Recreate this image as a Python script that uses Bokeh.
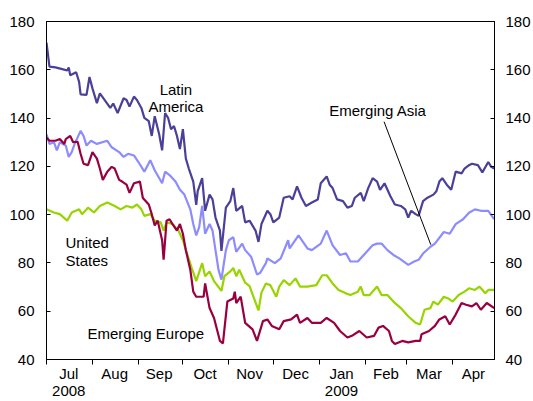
import pandas as pd
from bokeh.plotting import figure
from bokeh.models import FixedTicker, LinearAxis, Label, Range1d, ColumnDataSource
from bokeh.embed import file_html
from bokeh.resources import INLINE

BASE = "2008-07-01"

# Latin America (days since BASE, index level)
la_day = [0,2,6,10,14,15,16,20,22,23,27,29,31,34,36,40,43,45,48,52,54,56,59,61,64,66,69,71,73,76,
          78,80,82,84,86,88,90,92,94,96,99,101,102,105,107,110,112,114,117,118,121,124,126,128,132,134,137,141,143,145,
          149,151,153,157,160,164,166,169,172,175,179,183,185,189,191,193,196,200,203,206,208,212,214,217,220,223,225,228,232,235,
          239,242,244,246,249,251,254,257,261,263,265,267,270,273,276,280,282,285,287,291,294,298,300,302]
la_val = [171.2,161.3,161,160.4,159.7,161,157.7,159,155,149.8,149.6,157,152.3,146.2,150.2,146.8,144.2,146,142.1,148.2,
          147.5,144.8,148.9,147.5,144.2,140.1,138.7,132.6,140.8,133.3,126.6,142.1,140.1,135.4,136.7,132.6,127.2,135.4,123.2,119.1,
          113.7,104,109.7,115.1,101.6,108.3,106.3,98.8,93.4,85,102.9,105.6,111,101.6,103.6,96.8,97.5,93.4,88.7,96.1,
          101.6,100.2,96.8,98.8,107,107.6,106.3,111.7,107,103.6,105,106.3,113,115.8,112.4,111,106.3,105.6,102.9,103.6,
          107,109,105.6,111,115.1,113.7,110.3,113,107.6,104.2,103.6,102.2,98.8,101.6,100.2,99.5,105.6,107,108.3,109.7,
          113.7,115.1,112.4,110.3,117.8,117.1,119.1,120.5,121.1,120.5,117.5,121.8,119.8,119.1]

# Emerging Asia
as_day = [0,2,5,7,9,13,15,17,19,23,25,27,30,34,41,44,49,52,55,59,62,66,70,73,78,80,83,87,90,93,
          97,99,101,103,105,107,110,112,114,116,118,121,123,126,128,132,134,138,142,144,148,149,154,158,163,164,170,176,179,185,
          189,193,198,202,205,210,214,220,223,226,230,234,238,244,248,251,254,259,262,268,272,276,281,285,289,293,298,302]
as_val = [133.3,129.3,130,126.6,130,128.6,123.9,125.9,129.3,134.7,132.6,128.6,130.6,129.3,130.6,127.9,125.9,123.9,125.2,124.5,
          121.8,117.8,122.5,118.4,113,117.8,116.4,113.7,110.3,108.3,102.2,96.1,91.4,94.8,103.6,92.1,96.1,93.4,85.3,77.2,
          73.1,85.3,89.4,90.7,84.6,88,85.3,82.6,75.2,75.8,79.9,81.9,79.9,81.9,89.4,86,91.4,86,85.3,88,
          93.4,87.3,83.3,84,80.6,80.6,83.3,87.3,88,88,85.3,83.3,81.9,79.2,80.6,81.3,83.9,86.7,88,92.8,
          92.1,96.1,98.1,100.8,102.2,101.6,101.6,98.1]

# United States
us_day = [0,5,9,14,17,22,24,28,32,36,41,46,50,54,58,61,64,66,70,73,77,79,81,85,89,92,94,98,101,105,
          107,110,113,118,120,124,126,128,130,134,137,139,143,145,148,151,155,157,160,164,168,171,176,182,186,189,193,197,202,205,
          210,212,214,218,223,226,230,234,239,244,249,252,255,259,261,264,268,271,274,278,282,285,289,292,296,298,302]
us_val = [102.2,100.9,100.2,97.5,100.9,102.2,100.2,102.9,100.9,103.6,105,103.6,102.2,103.6,102.9,104.2,102.2,99.5,100.2,97.5,
          96.8,93.4,96.8,96.1,93.4,89.4,85.3,77.9,72.5,79.9,74.5,76.5,72.5,68.4,74.5,76.5,77.9,74.5,77.2,71.8,
          70.4,67,60.3,67.7,71.5,70.8,66,70.2,72.9,70.8,73.6,70.2,70.2,70.8,74.9,74.9,71.5,68.8,67.4,66.7,
          68.1,70.2,66.7,66.7,70.2,66.7,66.7,64,61.3,57.9,55.2,54.5,60.6,61.3,64,62.7,66,65.3,64,66.7,
          68.1,69.5,68.8,70.2,67.4,68.8,68.8]

# Emerging Europe
eu_day = [0,2,6,9,12,13,16,18,21,23,25,28,31,34,36,38,41,44,46,49,51,54,56,59,63,65,69,71,73,75,
          78,79,81,83,85,88,90,92,94,97,99,101,106,107,110,113,117,119,122,126,127,128,131,134,139,142,146,149,152,157,
          160,165,169,171,176,179,185,189,194,198,203,206,211,216,221,224,227,231,233,235,240,244,249,252,253,258,262,265,269,272,
          276,280,283,287,290,293,297,302]
eu_val = [132,130.6,130.6,131.3,129.3,131.3,132.6,130,130.2,125.2,121.1,120.5,125.9,123.2,119.1,114.4,117.8,119.8,119.1,114.4,
          113.7,112.4,109,113,113.7,106.9,104.2,100.2,95.5,97.5,89.4,81.3,97.5,98.1,96.1,93.4,96.1,92.1,85.3,77.2,
          68.1,66,66,71.5,61.3,57.2,47.7,46.7,64,65.3,68.1,63.4,66,55.2,52.5,47.7,55.9,56.6,53.9,52.5,
          55.9,56.6,58.6,55.2,57.2,55.2,55.2,57.2,55.2,51.8,49.1,49.8,51.8,49.1,49.8,53.2,53.9,51.8,47.7,46.4,
          47.7,47.1,47.7,47.7,50.5,51.8,53.9,56.6,57.9,54.5,58.6,63.4,62.7,62,63.4,60.6,63.4,61.3]

month_starts = ["2008-07-01","2008-08-01","2008-09-01","2008-10-01","2008-11-01","2008-12-01",
                "2009-01-01","2009-02-01","2009-03-01","2009-04-01"]
month_mids = ["2008-07-16","2008-08-16","2008-09-15","2008-10-16","2008-11-15","2008-12-16",
              "2009-01-16","2009-02-15","2009-03-16","2009-04-15"]
month_labels = ["Jul\n2008","Aug","Sep","Oct","Nov","Dec","Jan\n2009","Feb","Mar","Apr"]
y_ticks = [40, 60, 80, 100, 120, 140, 160, 180]

base = pd.Timestamp(BASE)
def to_dt(days):
    return [base + pd.Timedelta(days=d) for d in days]
def ms(ts):
    return float(pd.Timestamp(ts).value // 10**6)
def day_ms(d):
    return ms(base + pd.Timedelta(days=d))

FONT = "Liberation Sans"

p = figure(width=533, height=401, x_axis_type="datetime", output_backend="svg",
           toolbar_location=None, min_border_left=46, min_border_right=37,
           min_border_top=21, min_border_bottom=36,
           x_range=Range1d(day_ms(0), day_ms(302.2)), y_range=Range1d(40, 180))
p.grid.visible = False
p.outline_line_color = "black"
p.outline_line_width = 1
p.background_fill_color = "white"
p.border_fill_color = "white"

series = [
    (la_day, la_val, "#4A4099"),
    (as_day, as_val, "#8C8CFF"),
    (us_day, us_val, "#99D400"),
    (eu_day, eu_val, "#990040"),
]
for days, vals, col in series:
    src = ColumnDataSource(dict(x=to_dt(days), y=vals))
    p.line("x", "y", source=src, line_color=col, line_width=2.2)

# x axis
xa = p.xaxis[0]
xa.ticker = FixedTicker(ticks=[ms(t) for t in month_mids], minor_ticks=[ms(t) for t in month_starts])
xa.major_label_overrides = {ms(t): lab for t, lab in zip(month_mids, month_labels)}
xa.major_tick_out = 0
xa.major_tick_in = 0
xa.minor_tick_out = 5
xa.minor_tick_in = 0
xa.minor_tick_line_color = "black"
xa.axis_line_color = "black"
xa.major_label_standoff = 0
xa.major_label_text_font = FONT
xa.major_label_text_font_size = "15px"
xa.major_label_text_color = "black"
xa.major_label_text_line_height = 1.02

# y axes
ya = p.yaxis[0]
ya.ticker = FixedTicker(ticks=y_ticks)
ry = LinearAxis(ticker=FixedTicker(ticks=y_ticks))
p.add_layout(ry, "right")
for ax, st in ((ya, 12), (ry, 11)):
    ax.major_tick_out = 0
    ax.major_tick_in = 4
    ax.minor_tick_out = 0
    ax.minor_tick_in = 0
    ax.axis_line_color = "black"
    ax.major_tick_line_color = "black"
    ax.major_label_standoff = st
    ax.major_label_text_font = FONT
    ax.major_label_text_font_size = "15px"
    ax.major_label_text_color = "black"

def add_label(d, v, text, align="center"):
    p.add_layout(Label(x=day_ms(d), y=v, text=text, text_font=FONT, text_font_size="15px",
                       text_color="black", text_align=align, text_baseline="middle"))

add_label(87.3, 151.9, "Latin")
add_label(87.3, 144.6, "America")
add_label(223.6, 143.0, "Emerging Asia")
add_label(12.8, 88.4, "United", "left")
add_label(12.8, 81.1, "States", "left")
add_label(67.0, 50.6, "Emerging Europe")

p.segment(x0=[day_ms(227.7)], y0=[138.5], x1=[day_ms(259.2)], y1=[87.6],
          line_color="black", line_width=1)

open("out.html", "w").write(file_html(p, INLINE))
